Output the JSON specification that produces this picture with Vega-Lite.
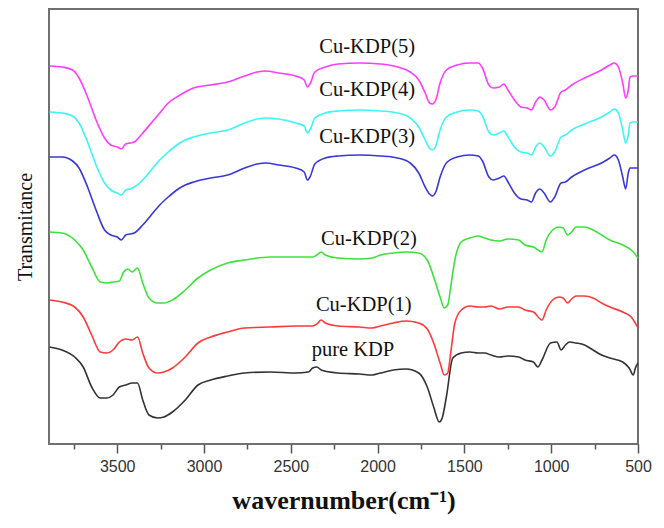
{
  "$schema": "https://vega.github.io/schema/vega-lite/v6.json",
  "autosize": {"type": "none"},
  "padding": {"left": 49, "top": 9, "right": 26, "bottom": 84},
  "width": 589,
  "height": 435,
  "background": "white",
  "config": {
    "view": {"stroke": "#707070", "strokeWidth": 2},
    "axis": {"grid": false}
  },
  "datasets": {
    "top": [
      {"x":3890,"m":378,"c":332,"b":287},{"x":3818,"m":377,"c":331,"b":287},{"x":3757,"m":374,"c":328,"b":283},
      {"x":3720,"m":366,"c":321,"b":276},{"x":3671,"m":347,"c":302,"b":257},{"x":3622,"m":324,"c":279,"b":234},
      {"x":3573,"m":306,"c":261,"b":214},{"x":3537,"m":299,"c":254,"b":209},{"x":3500,"m":297,"c":251,"b":207},
      {"x":3476,"m":295,"c":249,"b":204},{"x":3451,"m":300,"c":254,"b":209},{"x":3427,"m":301,"c":255,"b":210},
      {"x":3402,"m":302,"c":257,"b":211},{"x":3353,"m":311,"c":264,"b":219},{"x":3304,"m":321,"c":274,"b":229},
      {"x":3255,"m":331,"c":284,"b":239},{"x":3206,"m":341,"c":292,"b":247},{"x":3157,"m":347,"c":299,"b":254},
      {"x":3108,"m":352,"c":304,"b":259},{"x":3060,"m":356,"c":307,"b":262},{"x":2962,"m":359,"c":311,"b":266},
      {"x":2864,"m":362,"c":314,"b":269},{"x":2766,"m":368,"c":321,"b":276},{"x":2693,"m":372,"c":325,"b":280},
      {"x":2644,"m":373,"c":326,"b":281},{"x":2570,"m":371,"c":325,"b":279},{"x":2472,"m":368,"c":321,"b":276},
      {"x":2423,"m":364,"c":318,"b":272},{"x":2404,"m":357,"c":311,"b":264},{"x":2387,"m":361,"c":315,"b":268},
      {"x":2362,"m":372,"c":326,"b":280},{"x":2301,"m":377,"c":331,"b":286},{"x":2228,"m":380,"c":333,"b":288},
      {"x":2105,"m":381,"c":334,"b":289},{"x":1983,"m":380,"c":333,"b":288},{"x":1885,"m":377,"c":331,"b":286},
      {"x":1812,"m":372,"c":326,"b":281},{"x":1763,"m":364,"c":317,"b":271},{"x":1726,"m":351,"c":304,"b":257},
      {"x":1701,"m":341,"c":296,"b":250},{"x":1684,"m":340,"c":294,"b":248},{"x":1665,"m":344,"c":298,"b":252},
      {"x":1640,"m":361,"c":314,"b":267},{"x":1604,"m":374,"c":327,"b":281},{"x":1542,"m":379,"c":332,"b":287},
      {"x":1469,"m":381,"c":334,"b":289},{"x":1420,"m":381,"c":333,"b":288},{"x":1396,"m":376,"c":328,"b":283},
      {"x":1359,"m":359,"c":312,"b":267},{"x":1334,"m":356,"c":309,"b":264},{"x":1298,"m":357,"c":311,"b":266},
      {"x":1273,"m":360,"c":313,"b":268},{"x":1249,"m":354,"c":307,"b":262},{"x":1212,"m":344,"c":297,"b":251},
      {"x":1175,"m":337,"c":292,"b":245},{"x":1139,"m":336,"c":291,"b":244},{"x":1114,"m":334,"c":289,"b":242},
      {"x":1090,"m":342,"c":297,"b":251},{"x":1065,"m":347,"c":301,"b":255},{"x":1041,"m":344,"c":297,"b":251},
      {"x":1004,"m":334,"c":288,"b":242},{"x":980,"m":337,"c":292,"b":247},{"x":943,"m":352,"c":307,"b":261},
      {"x":918,"m":354,"c":309,"b":262},{"x":882,"m":359,"c":314,"b":267},{"x":808,"m":366,"c":320,"b":274},
      {"x":710,"m":374,"c":327,"b":281},{"x":662,"m":379,"c":332,"b":286},{"x":637,"m":381,"c":335,"b":289},
      {"x":613,"m":377,"c":331,"b":284},{"x":588,"m":361,"c":314,"b":267},{"x":571,"m":346,"c":301,"b":255},
      {"x":556,"m":354,"c":309,"b":271},{"x":546,"m":367,"c":321,"b":276},{"x":527,"m":368,"c":322,"b":276},
      {"x":500,"m":368,"c":322,"b":276}
    ],
    "bottom": [
      {"x":3890,"g":212,"r":144},{"x":3818,"g":211,"r":142},{"x":3745,"g":204,"r":137},{"x":3696,"g":194,"r":127},
      {"x":3647,"g":177,"r":109},{"x":3598,"g":162,"r":92},{"x":3561,"g":161,"r":91},{"x":3524,"g":162,"r":94},
      {"x":3488,"g":163,"r":102},{"x":3463,"g":172},{"x":3451,"r":105},{"x":3439,"g":175},{"x":3414,"g":172,"r":104},
      {"x":3383,"g":176,"r":107},{"x":3353,"g":161,"r":91},{"x":3317,"g":146,"r":76},{"x":3268,"g":141,"r":71},
      {"x":3231,"g":141,"r":72},{"x":3182,"g":144,"r":76},{"x":3108,"g":154,"r":87},{"x":3035,"g":166,"r":101},
      {"x":2962,"g":174,"r":107},{"x":2864,"g":181,"r":112},{"x":2766,"g":184,"r":116},{"x":2619,"g":187,"r":117},
      {"x":2472,"g":187,"r":118},{"x":2374,"g":187,"r":118},{"x":2350,"g":189,"r":120},{"x":2325,"g":192,"r":124},
      {"x":2301,"g":189,"r":121},{"x":2228,"g":186,"r":118},{"x":2105,"g":185,"r":117},{"x":2032,"g":186,"r":116},
      {"x":1983,"g":189,"r":118},{"x":1909,"g":191,"r":121},{"x":1836,"g":192,"r":123},{"x":1763,"g":191,"r":121},
      {"x":1714,"g":184,"r":115},{"x":1677,"g":167,"r":101},{"x":1640,"g":147,"r":81},{"x":1616,"g":136,"r":69},
      {"x":1596,"g":139,"r":71},{"x":1579,"g":157,"r":91},{"x":1555,"g":184,"r":121},{"x":1518,"g":202,"r":134},
      {"x":1469,"g":206,"r":138},{"x":1420,"g":208,"r":137},{"x":1383,"g":206,"r":137},{"x":1347,"g":204,"r":138},
      {"x":1298,"g":203,"r":135},{"x":1249,"g":205,"r":137},{"x":1188,"g":204,"r":137},{"x":1151,"g":199,"r":134},
      {"x":1102,"g":197,"r":132},{"x":1053,"g":192,"r":124},{"x":1029,"g":204,"r":134},{"x":992,"g":214,"r":144},
      {"x":955,"g":217,"r":147},{"x":931,"g":216,"r":146},{"x":906,"g":209,"r":141},{"x":882,"g":212,"r":145},
      {"x":857,"g":217,"r":148},{"x":808,"g":217,"r":148},{"x":759,"g":214,"r":146},{"x":710,"g":209,"r":141},
      {"x":662,"g":204,"r":137},{"x":588,"g":199,"r":132},{"x":539,"g":194,"r":127},{"x":500,"g":186,"r":116}
    ],
    "black": [
      {"x":3890,"k":97},{"x":3818,"k":94},{"x":3745,"k":87},{"x":3696,"k":77},{"x":3647,"k":57},{"x":3598,"k":46},
      {"x":3561,"k":46},{"x":3524,"k":49},{"x":3488,"k":57},{"x":3451,"k":59},{"x":3414,"k":61},{"x":3383,"k":61},
      {"x":3353,"k":44},{"x":3317,"k":29},{"x":3268,"k":26},{"x":3231,"k":27},{"x":3182,"k":32},{"x":3108,"k":44},
      {"x":3035,"k":59},{"x":2962,"k":64},{"x":2864,"k":68},{"x":2766,"k":71},{"x":2619,"k":72},{"x":2472,"k":71},
      {"x":2399,"k":72},{"x":2374,"k":76},{"x":2350,"k":77},{"x":2325,"k":74},{"x":2228,"k":71},{"x":2105,"k":70},
      {"x":2032,"k":69},{"x":1983,"k":71},{"x":1909,"k":74},{"x":1836,"k":75},{"x":1763,"k":71},{"x":1714,"k":57},
      {"x":1677,"k":37},{"x":1645,"k":22},{"x":1628,"k":26},{"x":1604,"k":47},{"x":1567,"k":86},{"x":1518,"k":91},
      {"x":1469,"k":92},{"x":1420,"k":91},{"x":1383,"k":91},{"x":1347,"k":89},{"x":1298,"k":87},{"x":1249,"k":88},
      {"x":1188,"k":87},{"x":1151,"k":84},{"x":1102,"k":82},{"x":1077,"k":77},{"x":1053,"k":84},{"x":1004,"k":101},
      {"x":967,"k":102},{"x":943,"k":94},{"x":918,"k":99},{"x":894,"k":102},{"x":857,"k":101},{"x":808,"k":99},
      {"x":759,"k":94},{"x":710,"k":89},{"x":662,"k":86},{"x":588,"k":82},{"x":551,"k":76},{"x":527,"k":69},
      {"x":515,"k":76},{"x":500,"k":81}
    ],
    "labels": [
      {"t":"Cu-KDP(5)","x":2060,"y":397},
      {"t":"Cu-KDP(4)","x":2060,"y":354},
      {"t":"Cu-KDP(3)","x":2060,"y":307},
      {"t":"Cu-KDP(2)","x":2050,"y":205},
      {"t":"Cu-KDP(1)","x":2080,"y":139},
      {"t":"pure KDP","x":2142,"y":94}
    ]
  },
  "encoding": {
    "x": {
      "field": "x", "type": "quantitative",
      "scale": {"domain": [3893, 500], "nice": false, "zero": false},
      "axis": {
        "title": "wavernumber(cm⁻¹)",
        "values": [3750,3500,3250,3000,2750,2500,2250,2000,1750,1500,1250,1000,750,500],
        "format": "d",
        "labelExpr": "datum.value % 500 === 0 ? datum.label : ''",
        "tickSize": {"condition": {"test": "datum.value % 500 !== 0", "value": 5}, "value": 9},
        "tickColor": "#555555",
        "tickWidth": 1.5,
        "domain": false,
        "labelFont": "Liberation Sans",
        "labelFontSize": 16,
        "labelColor": "#333333",
        "labelPadding": 5,
        "labelOverlap": false,
        "labelFlush": false,
        "labelBound": false,
        "titleFont": "Liberation Serif",
        "titleFontSize": 26,
        "titleFontWeight": "bold",
        "titleColor": "#111111",
        "titlePadding": 13
      }
    },
    "y": {
      "field": "y", "type": "quantitative",
      "scale": {"domain": [0, 435], "nice": false, "zero": false},
      "axis": {
        "title": "Transmitance",
        "labels": false, "ticks": false, "domain": false,
        "titleFont": "Liberation Serif",
        "titleFontSize": 20,
        "titleFontWeight": "normal",
        "titleColor": "#111111",
        "titlePadding": 14
      }
    }
  },
  "layer": [
    {
      "data": {"name": "top"},
      "transform": [
        {"fold": ["m", "c", "b"], "as": ["s", "y"]},
        {"filter": "isValid(datum.y)"}
      ],
      "mark": {"type": "line", "strokeWidth": 1.6, "interpolate": "monotone"},
      "encoding": {
        "color": {"field": "s", "type": "nominal", "legend": null,
          "scale": {"domain": ["m","c","b","g","r","k"], "range": ["#ff3cff","#3cf5f5","#3838d8","#3ce23c","#ff3a3a","#333333"]}}
      }
    },
    {
      "data": {"name": "bottom"},
      "transform": [
        {"fold": ["g", "r"], "as": ["s", "y"]},
        {"filter": "isValid(datum.y)"}
      ],
      "mark": {"type": "line", "strokeWidth": 1.6, "interpolate": "monotone"},
      "encoding": {
        "color": {"field": "s", "type": "nominal", "legend": null}
      }
    },
    {
      "data": {"name": "black"},
      "transform": [
        {"fold": ["k"], "as": ["s", "y"]},
        {"filter": "isValid(datum.y)"}
      ],
      "mark": {"type": "line", "strokeWidth": 1.6, "interpolate": "monotone"},
      "encoding": {
        "color": {"field": "s", "type": "nominal", "legend": null}
      }
    },
    {
      "data": {"name": "labels"},
      "mark": {"type": "text", "font": "Liberation Serif", "fontSize": 20.5, "color": "#111111", "align": "center", "baseline": "middle"},
      "encoding": {
        "text": {"field": "t", "type": "nominal"}
      }
    }
  ]
}
